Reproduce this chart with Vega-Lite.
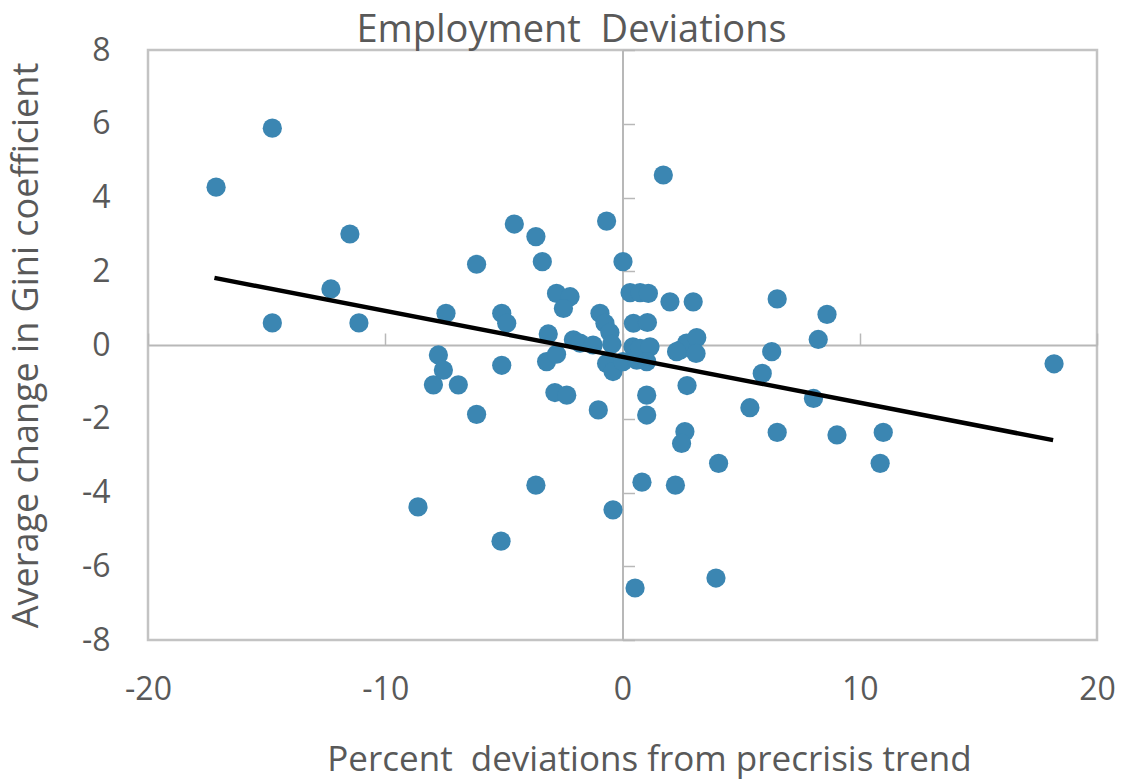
{
  "$schema": "https://vega.github.io/schema/vega-lite/v6.json",
  "width": 949,
  "height": 590,
  "autosize": {"type": "none"},
  "padding": {"left": 148, "top": 50, "right": 25, "bottom": 139},
  "background": "white",
  "title": {
    "text": "Employment\u00a0 Deviations",
    "font": "Open Sans",
    "fontSize": 38,
    "fontWeight": "normal",
    "color": "#595959",
    "anchor": "middle",
    "baseline": "alphabetic",
    "offset": 8,
    "dx": -51,
    "dy": 54
  },
  "config": {
    "view": {"stroke": "#c3c3c3", "strokeWidth": 2.5},
    "axis": {
      "labelFont": "Open Sans",
      "titleFont": "Open Sans",
      "labelColor": "#595959",
      "titleColor": "#595959",
      "labelFontSize": 32,
      "titleFontSize": 35,
      "titleFontWeight": "normal",
      "grid": false
    }
  },
  "resolve": {"axis": {"x": "independent", "y": "independent"}},
  "layer": [
    {
      "data": {
        "values": [
          {"dev": -17.13, "gini": 4.28}, {"dev": -14.76, "gini": 5.88}, {"dev": -14.76, "gini": 0.6},
          {"dev": -12.29, "gini": 1.52}, {"dev": -11.49, "gini": 3.01}, {"dev": -11.11, "gini": 0.6},
          {"dev": -8.62, "gini": -4.39}, {"dev": -7.97, "gini": -1.08}, {"dev": -7.76, "gini": -0.27},
          {"dev": -7.55, "gini": -0.68}, {"dev": -7.44, "gini": 0.86}, {"dev": -6.92, "gini": -1.08},
          {"dev": -6.15, "gini": 2.19}, {"dev": -6.15, "gini": -1.88}, {"dev": -5.12, "gini": -5.32},
          {"dev": -5.09, "gini": 0.86}, {"dev": -4.88, "gini": 0.59}, {"dev": -5.09, "gini": -0.55},
          {"dev": -4.56, "gini": 3.28}, {"dev": -3.65, "gini": 2.94}, {"dev": -3.38, "gini": 2.26},
          {"dev": -3.65, "gini": -3.8}, {"dev": -3.13, "gini": 0.3}, {"dev": -3.2, "gini": -0.45},
          {"dev": -2.78, "gini": -0.25}, {"dev": -2.85, "gini": -1.29}, {"dev": -2.35, "gini": -1.36},
          {"dev": -2.78, "gini": 1.4}, {"dev": -2.21, "gini": 1.31}, {"dev": -2.49, "gini": 0.99},
          {"dev": -2.07, "gini": 0.14}, {"dev": -1.79, "gini": 0.05}, {"dev": -1.24, "gini": 0.0},
          {"dev": -1.02, "gini": -1.76}, {"dev": -0.95, "gini": 0.86}, {"dev": -0.74, "gini": 0.59},
          {"dev": -0.53, "gini": 0.34}, {"dev": -0.45, "gini": 0.02}, {"dev": -0.67, "gini": 3.36},
          {"dev": -0.67, "gini": -0.5}, {"dev": -0.4, "gini": -0.72}, {"dev": -0.4, "gini": -4.47},
          {"dev": 0.02, "gini": 2.26}, {"dev": 0.02, "gini": -0.45}, {"dev": 0.32, "gini": 1.42},
          {"dev": 0.74, "gini": 1.42}, {"dev": 1.09, "gini": 1.4}, {"dev": 0.46, "gini": 0.59},
          {"dev": 1.05, "gini": 0.61}, {"dev": 0.44, "gini": -0.05}, {"dev": 0.74, "gini": -0.09},
          {"dev": 1.16, "gini": -0.05}, {"dev": 0.6, "gini": -0.41}, {"dev": 1.02, "gini": -0.45},
          {"dev": 1.02, "gini": -1.36}, {"dev": 1.02, "gini": -1.9}, {"dev": 0.82, "gini": -3.72},
          {"dev": 0.53, "gini": -6.59}, {"dev": 1.72, "gini": 4.61}, {"dev": 2.0, "gini": 1.17},
          {"dev": 2.98, "gini": 1.17}, {"dev": 2.42, "gini": -0.14}, {"dev": 2.7, "gini": 0.05},
          {"dev": 3.13, "gini": 0.2}, {"dev": 3.1, "gini": -0.23}, {"dev": 2.28, "gini": -0.18},
          {"dev": 2.72, "gini": -1.1}, {"dev": 2.63, "gini": -2.35}, {"dev": 2.49, "gini": -2.67},
          {"dev": 2.23, "gini": -3.8}, {"dev": 4.05, "gini": -3.21}, {"dev": 3.94, "gini": -6.32},
          {"dev": 5.37, "gini": -1.7}, {"dev": 5.89, "gini": -0.77}, {"dev": 6.29, "gini": -0.18},
          {"dev": 6.52, "gini": 1.25}, {"dev": 6.52, "gini": -2.37}, {"dev": 8.05, "gini": -1.45},
          {"dev": 8.25, "gini": 0.15}, {"dev": 8.62, "gini": 0.83}, {"dev": 9.04, "gini": -2.44},
          {"dev": 10.99, "gini": -2.37}, {"dev": 10.86, "gini": -3.21}, {"dev": 18.19, "gini": -0.51}
        ]
      },
      "mark": {"type": "circle", "size": 370, "color": "#3b86b2", "opacity": 1},
      "encoding": {
        "x": {
          "field": "dev",
          "type": "quantitative",
          "scale": {"domain": [-20, 20], "nice": false, "zero": false},
          "axis": {
            "orient": "bottom",
            "title": "Percent\u00a0 deviations from precrisis trend",
            "values": [-20, -10, 0, 10, 20],
            "labelExpr": "toString(datum.value)",
            "domain": false,
            "ticks": false,
            "labelPadding": 34,
            "titlePadding": 37,
            "titleX": 501,
            "titleAlign": "center",
            "labelFlush": false
          }
        },
        "y": {
          "field": "gini",
          "type": "quantitative",
          "scale": {"domain": [-8, 8], "nice": false, "zero": false},
          "axis": {
            "orient": "left",
            "title": "Average change in Gini coefficient",
            "titleFontSize": 36,
            "values": [-8, -6, -4, -2, 0, 2, 4, 6, 8],
            "labelExpr": "toString(datum.value)",
            "domain": false,
            "ticks": false,
            "labelPadding": 38,
            "titlePadding": 36,
            "labelFlush": false
          }
        }
      }
    },
    {
      "data": {
        "values": [
          {"dev": -17.2, "gini": 1.82},
          {"dev": 18.15, "gini": -2.58}
        ]
      },
      "mark": {"type": "line", "color": "#000000", "strokeWidth": 4.5},
      "encoding": {
        "x": {
          "field": "dev",
          "type": "quantitative",
          "scale": {"domain": [-20, 20], "nice": false, "zero": false},
          "axis": {
            "orient": "top",
            "offset": -295,
            "title": null,
            "labels": false,
            "values": [-20, -10, 0, 10, 20],
            "domainColor": "#b8b8b8",
            "domainWidth": 2,
            "tickColor": "#b8b8b8",
            "tickWidth": 1.5,
            "tickSize": 12
          }
        },
        "y": {
          "field": "gini",
          "type": "quantitative",
          "scale": {"domain": [-8, 8], "nice": false, "zero": false},
          "axis": {
            "orient": "right",
            "offset": -474.5,
            "title": null,
            "labels": false,
            "values": [-8, -6, -4, -2, 0, 2, 4, 6, 8],
            "domainColor": "#b8b8b8",
            "domainWidth": 2,
            "tickColor": "#b8b8b8",
            "tickWidth": 1.5,
            "tickSize": 12
          }
        }
      }
    }
  ]
}
